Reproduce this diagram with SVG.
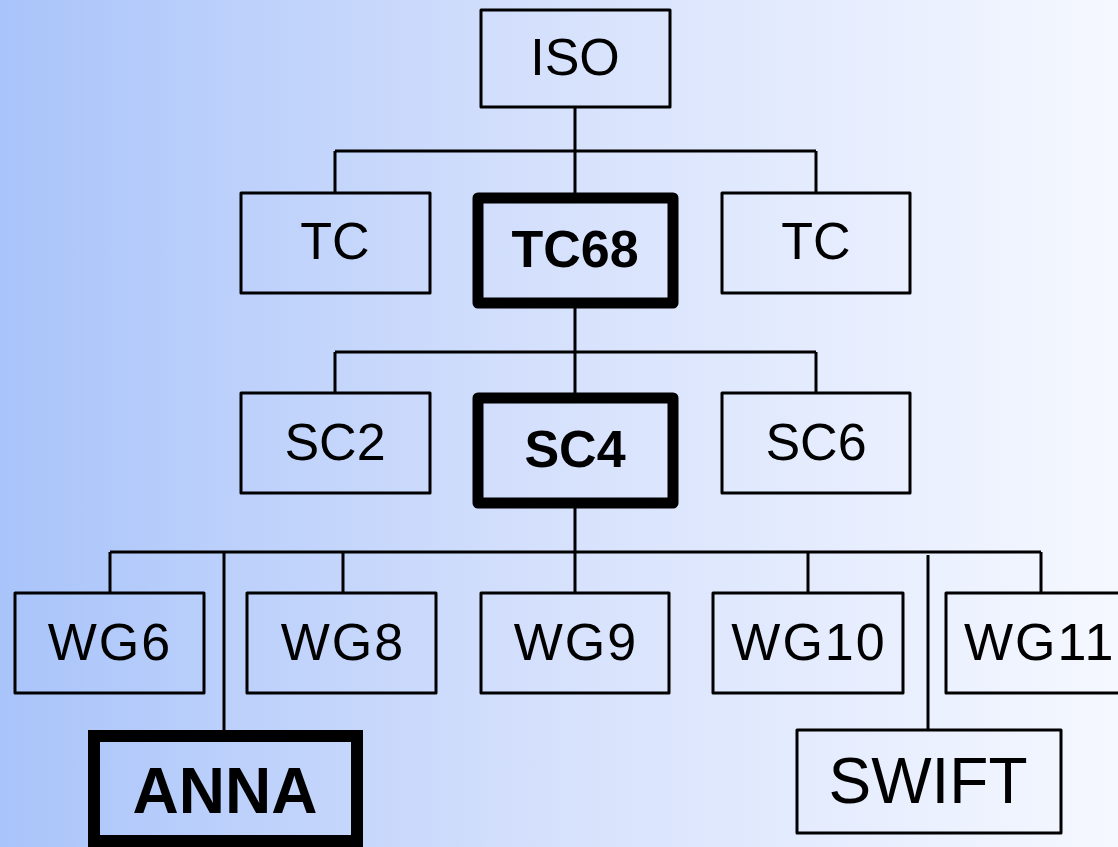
<svg xmlns="http://www.w3.org/2000/svg" width="1118" height="847" viewBox="0 0 1118 847">
<defs>
<linearGradient id="bg" x1="0" y1="0" x2="1" y2="0">
<stop offset="0" stop-color="#a9c4fa"/>
<stop offset="0.5" stop-color="#d6e1fc"/>
<stop offset="1" stop-color="#f5f8ff"/>
</linearGradient>
<style>
.box{fill:none;stroke:#000;stroke-width:3;stroke-linejoin:round}
.thick{fill:none;stroke:#000;stroke-width:11;stroke-linejoin:round}
.lbl{font-family:"Liberation Sans",Arial,sans-serif;font-size:52px;fill:#000;text-anchor:middle}
.b{font-weight:bold}
.ls{letter-spacing:2px}
.con{fill:none;stroke:#000;stroke-width:3}
</style>
</defs>
<rect x="0" y="0" width="1118" height="847" fill="url(#bg)"/>
<g id="connectors">
<path class="con" d="M575 107V193M335 151H816M335 151V193M816 151V193"/>
<path class="con" d="M575 303V393M335 352H816M335 352V393M816 352V393"/>
<path class="con" d="M575 503V593M110 552H1041M110 552V593M343 552V593M808 552V593M1041 552V593"/>
<path class="con" d="M224 553V730" stroke-width="4"/>
<path class="con" d="M928 555V730" stroke-width="4"/>
</g>
<g id="ISO"><rect class="box" x="481" y="10" width="189" height="97"/><text class="lbl" x="575" y="75">ISO</text></g>
<g id="TC-left"><rect class="box" x="241" y="193" width="189" height="100"/><text class="lbl" x="335" y="259">TC</text></g>
<g id="TC68"><rect class="thick" x="478" y="198" width="195" height="105"/><text class="lbl b" x="575" y="267">TC68</text></g>
<g id="TC-right"><rect class="box" x="722" y="193" width="188" height="100"/><text class="lbl" x="816" y="259">TC</text></g>
<g id="SC2"><rect class="box" x="241" y="393" width="189" height="100"/><text class="lbl" x="335" y="460">SC2</text></g>
<g id="SC4"><rect class="thick" x="478" y="398" width="195" height="105"/><text class="lbl b" x="575" y="467">SC4</text></g>
<g id="SC6"><rect class="box" x="722" y="393" width="188" height="100"/><text class="lbl" x="816" y="460">SC6</text></g>
<g id="WG6"><rect class="box" x="15" y="593" width="189" height="100"/><text class="lbl ls" x="110" y="660">WG6</text></g>
<g id="WG8"><rect class="box" x="247" y="593" width="189" height="100"/><text class="lbl ls" x="343" y="660">WG8</text></g>
<g id="WG9"><rect class="box" x="481" y="593" width="188" height="100"/><text class="lbl ls" x="576" y="660">WG9</text></g>
<g id="WG10"><rect class="box" x="713" y="593" width="190" height="100"/><text class="lbl ls" x="809" y="660">WG10</text></g>
<g id="WG11"><rect class="box" x="946" y="593" width="190" height="100"/><text class="lbl ls" x="964" y="660" style="text-anchor:start">WG11</text></g>
<g id="ANNA"><rect x="94" y="736" width="263" height="105" fill="none" stroke="#000" stroke-width="12"/><text class="lbl b" x="225" y="813" style="font-size:64px">ANNA</text></g>
<g id="SWIFT"><rect class="box" x="797" y="730" width="264" height="103" stroke-width="4"/><text class="lbl" x="928" y="803" style="font-size:64px">SWIFT</text></g>
</svg>
